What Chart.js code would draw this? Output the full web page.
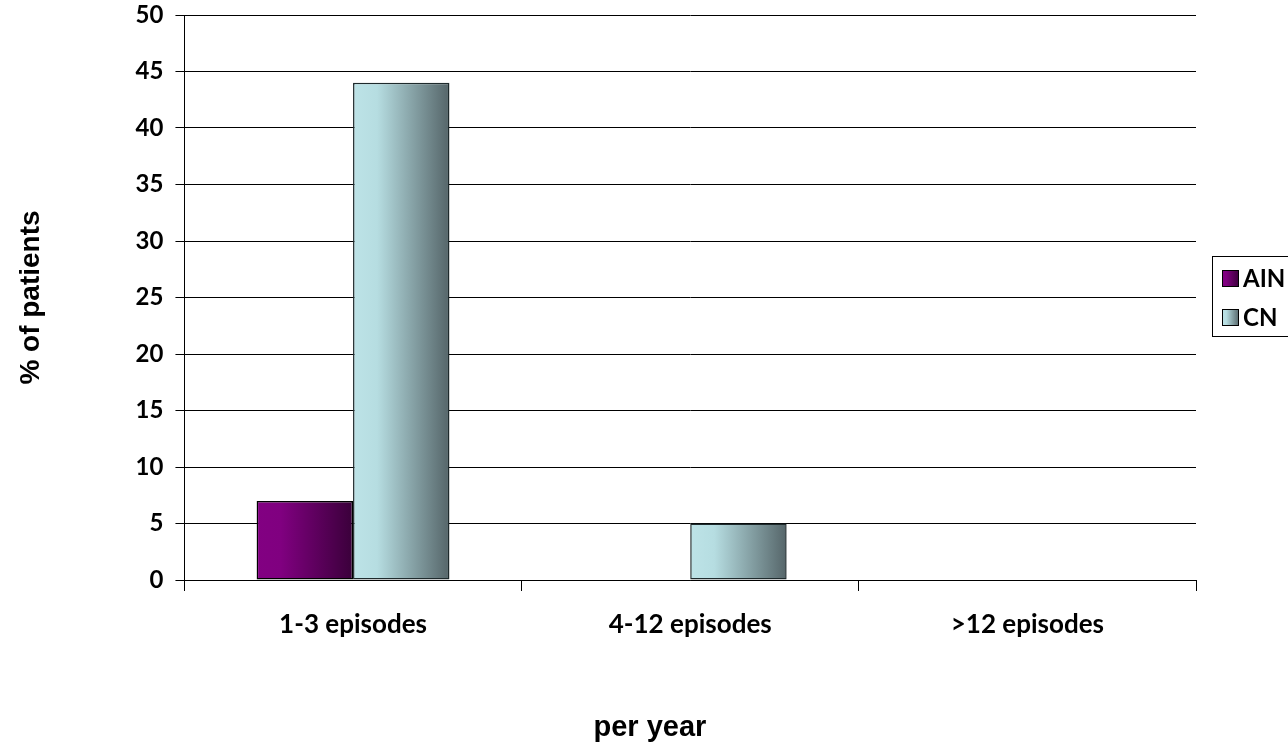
<!DOCTYPE html>
<html>
<head>
<meta charset="utf-8">
<script src="https://cdn.jsdelivr.net/npm/chart.js@4.4.1/dist/chart.umd.min.js"></script>
<style>
  html,body{margin:0;padding:0;background:#fff;}
  #wrap{width:1288px;height:745px;position:relative;}
</style>
</head>
<body>
<div id="wrap"><canvas id="c" width="1288" height="745"></canvas></div>
<script>
const CATEGORIES = ['1-3 episodes', '4-12 episodes', '>12 episodes'];
const SERIES_NAMES = ['AIN', 'CN'];
const AIN_VALUES = [7, 0, 0];
const CN_VALUES = [44, 5, 0];
const Y_MIN = 0, Y_MAX = 50, Y_STEP = 5;

const TICK_FONT = "Lato, 'Open Sans', sans-serif";
const TITLE_FONT = "'Liberation Sans', Arial, sans-serif";
const CAT_PCT = 0.572;

// left light -> right dark, like the old excel fill
const GRADS = [
  ['#820082', '#800080', '#3a003a'],
  ['#bde3e7', '#b6dde1', '#556569']
];

function barFill(c){
  const cols = GRADS[c.datasetIndex];
  const ch = c.chart;
  const xs = ch.scales && ch.scales.x;
  if(c.type !== 'data' || !xs || !ch.chartArea) return cols[1];
  const catW = (xs.right - xs.left) / CATEGORIES.length;
  const barW = catW * CAT_PCT / SERIES_NAMES.length;
  const center = xs.getPixelForValue(c.dataIndex);
  const x0 = center - catW * CAT_PCT / 2 + c.datasetIndex * barW;
  const g = ch.ctx.createLinearGradient(x0, 0, x0 + barW, 0);
  g.addColorStop(0, cols[0]);
  g.addColorStop(0.25, cols[1]);
  g.addColorStop(1, cols[2]);
  return g;
}

// excel-style boxed legend on the right
const boxLegend = {
  id: 'boxLegend',
  afterDraw(chart){
    const ctx = chart.ctx;
    const area = chart.chartArea;
    const left = area.right + 16;
    const top = 257;
    ctx.save();
    ctx.strokeStyle = '#000';
    ctx.lineWidth = 1;
    ctx.strokeRect(left + 0.5, top - 0.5, chart.width - left + 5, 80);
    ctx.font = "bold 24px " + TICK_FONT;
    ctx.textBaseline = 'middle';
    SERIES_NAMES.forEach((name, i) => {
      const by = top + 13 + i * 39;
      const bx = left + 10;
      const g = ctx.createLinearGradient(bx, 0, bx + 17, 0);
      g.addColorStop(0, GRADS[i][0]);
      g.addColorStop(0.25, GRADS[i][1]);
      g.addColorStop(1, GRADS[i][2]);
      ctx.fillStyle = g;
      ctx.fillRect(bx, by, 17, 17);
      ctx.strokeStyle = '#000';
      ctx.strokeRect(bx + 0.5, by + 0.5, 16, 16);
      ctx.fillStyle = '#000';
      ctx.fillText(name, bx + 21, by + 9.5);
    });
    ctx.restore();
  }
};

new Chart(document.getElementById('c'), {
  type: 'bar',
  data: {
    labels: CATEGORIES,
    datasets: [
      { label: SERIES_NAMES[0], data: AIN_VALUES, backgroundColor: barFill, borderColor: '#000', borderWidth: 1.5, borderSkipped: false },
      { label: SERIES_NAMES[1], data: CN_VALUES, backgroundColor: barFill, borderColor: '#1e2a2c', borderWidth: 1.5, borderSkipped: false }
    ]
  },
  options: {
    responsive: false,
    animation: false,
    devicePixelRatio: 1,
    layout: { padding: { top: 0, right: 92, bottom: 0, left: 0 } },
    datasets: { bar: { categoryPercentage: CAT_PCT, barPercentage: 1 } },
    plugins: {
      tooltip: { enabled: false },
      legend: { display: false }
    },
    scales: {
      x: {
        grid: { display: true, drawOnChartArea: false, offset: true, tickLength: 11, color: '#000', lineWidth: 1 },
        border: { display: true, color: '#000', width: 1 },
        ticks: { color: '#000', font: { family: TICK_FONT, size: 26, weight: 'bold' }, padding: 18, maxRotation: 0 },
        // trailing nbsp pull the centred title a bit to the left, as in the original
        title: { display: true, text: 'per year' + '\u00A0'.repeat(10), color: '#000', font: { family: TITLE_FONT, size: 29, weight: 'bold' }, padding: { top: 52, bottom: 0 } }
      },
      y: {
        min: Y_MIN, max: Y_MAX,
        grid: { color: '#000', lineWidth: 1, tickLength: 9 },
        border: { display: true, color: '#000', width: 1 },
        ticks: { stepSize: Y_STEP, color: '#000', font: { family: TICK_FONT, size: 24, weight: 'bold' }, padding: 12 },
        title: { display: true, text: '% of patients', color: '#000', font: { family: TITLE_FONT, size: 28, weight: 'bold' }, padding: { top: 14, bottom: 76 } },
        afterFit(scale){ scale.paddingTop = 15; }
      }
    }
  },
  plugins: [boxLegend]
});
</script>
</body>
</html>
